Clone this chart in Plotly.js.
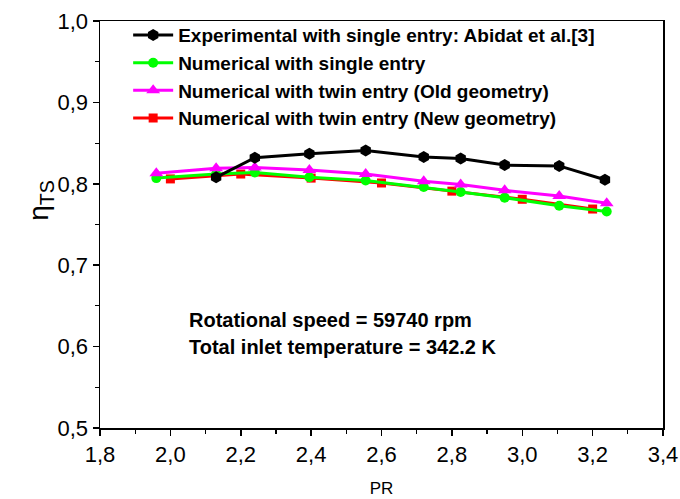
<!DOCTYPE html>
<html>
<head>
<meta charset="utf-8">
<script src="https://cdn.plot.ly/plotly-3.0.1.min.js"></script>
<style>html,body{margin:0;padding:0;background:#fff}#chart{width:680px;height:499px}</style>
</head>
<body>
<div id="chart"></div>
<script>
// Data
const expX = [2.13, 2.24, 2.395, 2.555, 2.72, 2.825, 2.95, 3.105, 3.235];
const expY = [0.808, 0.832, 0.837, 0.841, 0.833, 0.831, 0.823, 0.822, 0.805];

const singleX = [1.96, 2.13, 2.24, 2.395, 2.555, 2.72, 2.825, 2.95, 3.105, 3.24];
const singleY = [0.807, 0.812, 0.814, 0.808, 0.804, 0.796, 0.790, 0.783, 0.773, 0.766];

const twinOldX = [1.96, 2.13, 2.24, 2.395, 2.555, 2.72, 2.825, 2.95, 3.105, 3.24];
const twinOldY = [0.813, 0.819, 0.820, 0.817, 0.812, 0.803, 0.799, 0.792, 0.785, 0.776];

const twinNewX = [2.0, 2.2, 2.4, 2.6, 2.8, 3.0, 3.2];
const twinNewY = [0.806, 0.812, 0.807, 0.801, 0.791, 0.781, 0.769];

const seriesNames = [
  "Experimental with single entry: Abidat et al.[3]",
  "Numerical with single entry",
  "Numerical with twin entry (Old geometry)",
  "Numerical with twin entry (New geometry)"
];
const annotationLines = ["Rotational speed = 59740 rpm", "Total inlet temperature = 342.2 K"];
const yTitle = 'η<sub>TS</sub>';
const xTitle = 'PR';

const FONT = "Arial, 'Liberation Sans', sans-serif";

const traces = [
  {x: twinNewX, y: twinNewY, name: seriesNames[3], legendrank: 4, mode: 'lines+markers',
   line: {color: '#ff0000', width: 3}, marker: {symbol: 'square', size: 9, color: '#ff0000'}},
  {x: singleX, y: singleY, name: seriesNames[1], legendrank: 2, mode: 'lines+markers',
   line: {color: '#00ff00', width: 3}, marker: {symbol: 'circle', size: 10, color: '#00ff00'}},
  {x: twinOldX, y: twinOldY, name: seriesNames[2], legendrank: 3, mode: 'lines+markers',
   line: {color: '#ff00ff', width: 3}, marker: {symbol: 'triangle-up', size: 12, color: '#ff00ff'}},
  {x: expX, y: expY, name: seriesNames[0], legendrank: 1, mode: 'lines+markers',
   line: {color: '#000000', width: 3}, marker: {symbol: 'hexagon', size: 12, color: '#000000'}}
];

const layout = {
  width: 680, height: 499,
  margin: {l: 100, r: 17, t: 21, b: 71},
  paper_bgcolor: '#fff', plot_bgcolor: '#fff',
  separators: ', ',
  font: {family: FONT, color: '#000', size: 20},
  showlegend: true,
  legend: {
    x: 0.05, y: 1.012, xanchor: 'left', yanchor: 'top',
    bgcolor: 'rgba(0,0,0,0)', borderwidth: 0,
    font: {family: FONT, size: 19, color: '#000', weight: 'bold'},
    tracegroupgap: 0, itemwidth: 40
  },
  xaxis: {
    range: [1.8, 3.4], dtick: 0.2, tick0: 1.8, tickformat: '.1f',
    ticks: 'outside', ticklen: 6, tickwidth: 1.5, tickcolor: '#000',
    minor: {dtick: 0.1, ticks: 'outside', ticklen: 4, tickwidth: 1.2, tickcolor: '#000'},
    showline: true, linecolor: '#000', linewidth: 1.5, mirror: true,
    showgrid: false, zeroline: false,
    tickfont: {family: FONT, size: 22, color: '#000'},
    title: {text: xTitle, font: {family: FONT, size: 17, color: '#000'}, standoff: 16}
  },
  yaxis: {
    range: [0.5, 1.0], dtick: 0.1, tick0: 0.5, tickformat: '.1f',
    ticks: 'outside', ticklen: 6, tickwidth: 1.5, tickcolor: '#000',
    minor: {dtick: 0.05, ticks: 'outside', ticklen: 4, tickwidth: 1.2, tickcolor: '#000'},
    showline: true, linecolor: '#000', linewidth: 1.5, mirror: true,
    showgrid: false, zeroline: false,
    tickfont: {family: FONT, size: 22, color: '#000'}
  },
  annotations: [
    {xref: 'paper', yref: 'paper', x: -0.107, y: 0.56, xanchor: 'center', yanchor: 'middle', showarrow: false,
     textangle: -90, text: yTitle, font: {family: FONT, size: 28, color: '#000'}},
    {xref: 'paper', yref: 'paper', x: 0.155, y: 0.265, xanchor: 'left', yanchor: 'middle', showarrow: false,
     text: '<b>' + annotationLines[0] + '</b>', font: {family: FONT, size: 20, color: '#000'}},
    {xref: 'paper', yref: 'paper', x: 0.155, y: 0.2, xanchor: 'left', yanchor: 'middle', showarrow: false,
     text: '<b>' + annotationLines[1] + '</b>', font: {family: FONT, size: 20, color: '#000'}}
  ]
};

Plotly.newPlot('chart', traces, layout, {displayModeBar: false, staticPlot: true});
</script>
</body>
</html>
